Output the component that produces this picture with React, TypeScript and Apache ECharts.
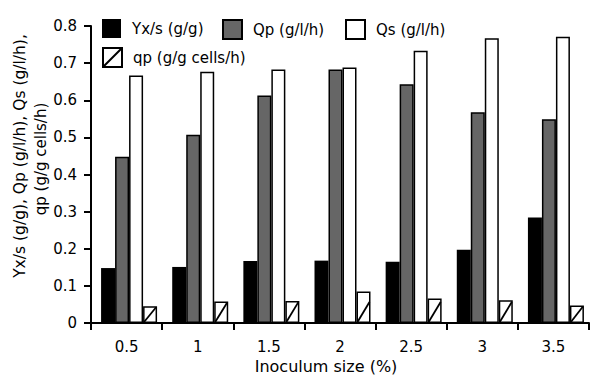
import React, { useEffect, useRef } from "react";
import * as echarts from "echarts";

const categories = ["0.5", "1", "1.5", "2", "2.5", "3", "3.5"];
const yxs = [0.148, 0.151, 0.167, 0.168, 0.165, 0.197, 0.284];
const Qp = [0.448, 0.507, 0.613, 0.683, 0.643, 0.568, 0.549];
const Qs = [0.667, 0.677, 0.683, 0.688, 0.733, 0.767, 0.771];
const qpCells = [0.045, 0.058, 0.059, 0.085, 0.066, 0.061, 0.047];

const names = ["Yx/s (g/g)", "Qp (g/l/h)", "Qs (g/l/h)", "qp (g/g cells/h)"];
const yName1 = "Yx/s (g/g), Qp (g/l/h), Qs (g/l/h),";
const yName2 = "qp (g/g cells/h)";
const xName = "Inoculum size (%)";

const FONT = "DejaVu Sans";

export default function App() {
  const ref = useRef<HTMLDivElement>(null);
  useEffect(() => {
    if (!ref.current) return;
    const chart = echarts.init(ref.current, undefined, { renderer: "svg" });
    const barW = 14;
    const spacerW = 5;
    const legendText = { fontFamily: FONT, fontSize: 15, color: "#000", padding: [0, 0, 0, 6] };
    const mkLegend = (name: string, left: number, top: number, icon = "rect") => ({
      data: [{ name, icon }],
      left,
      top,
      itemWidth: 19,
      itemHeight: 19,
      textStyle: legendText,
      selectedMode: false,
    });
    chart.setOption({
      animation: false,
      backgroundColor: "#fff",
      grid: { left: 91, right: 1, top: 26, bottom: 52, outerBoundsMode: "none", containLabel: false },
      legend: [
        mkLegend(names[0], 97, 14),
        mkLegend(names[1], 217, 14),
        mkLegend(names[2], 340, 14),
        mkLegend(names[3], 97, 42, "path://M0,0L20,0L20,20L0,20ZM0,20L20,0"),
      ],
      xAxis: {
        type: "category",
        data: categories,
        name: xName,
        nameLocation: "middle",
        nameGap: 31,
        nameTextStyle: { fontFamily: FONT, fontSize: 16, color: "#000", padding: [0, 28, 0, 0], verticalAlign: "top" },
        axisLine: { lineStyle: { color: "#000", width: 2 } },
        axisTick: { show: true, length: 7, lineStyle: { color: "#000", width: 2 } },
        axisLabel: { fontFamily: FONT, fontSize: 15, color: "#000", margin: 16 },
      },
      yAxis: {
        type: "value",
        min: 0,
        max: 0.8,
        interval: 0.1,
        axisLine: { show: true, lineStyle: { color: "#000", width: 2 } },
        axisTick: { show: true, length: 7, lineStyle: { color: "#000", width: 2 } },
        axisLabel: { fontFamily: FONT, fontSize: 15, color: "#000", margin: 14 },
        splitLine: { show: false },
      },
      graphic: [
        {
          type: "text",
          x: 20,
          y: 156,
          rotation: Math.PI / 2,
          style: { text: yName1, fontFamily: FONT, fontSize: 15.5, fill: "#000", align: "center", verticalAlign: "middle", textAlign: "center", textVerticalAlign: "middle" },
        },
        {
          type: "text",
          x: 41,
          y: 159,
          rotation: Math.PI / 2,
          style: { text: yName2, fontFamily: FONT, fontSize: 15, fill: "#000", align: "center", verticalAlign: "middle", textAlign: "center", textVerticalAlign: "middle" },
        },
      ],
      series: [
        {
          name: "spacer",
          type: "bar",
          data: categories.map(() => null),
          barWidth: spacerW,
          barGap: "0%",
          silent: true,
        },
        {
          name: names[0],
          type: "bar",
          data: yxs,
          barWidth: barW,
          barGap: "0%",
          itemStyle: { color: "#000", borderColor: "#000", borderWidth: 0 },
        },
        {
          name: names[1],
          type: "bar",
          data: Qp,
          barWidth: barW,
          barGap: "0%",
          itemStyle: { color: "#666666", borderColor: "#000", borderWidth: 1.5 },
        },
        {
          name: names[2],
          type: "bar",
          data: Qs,
          barWidth: barW,
          barGap: "0%",
          itemStyle: { color: "#fff", borderColor: "#000", borderWidth: 1.5 },
        },
        {
          name: names[3],
          type: "bar",
          data: qpCells,
          barWidth: barW,
          barGap: "0%",
          itemStyle: { color: "#fff", borderColor: "#000", borderWidth: 1.5 },
        },
        {
          name: "qp-hatch",
          type: "custom",
          z: 5,
          data: qpCells.map((v, i) => [i, v]),
          encode: { x: 0, y: 1 },
          renderItem: (params: any, api: any) => {
            const i = api.value(0);
            const v = api.value(1);
            const base = api.coord([i, 0]);
            const top = api.coord([i, v]);
            const total = spacerW + 4 * barW;
            const left = base[0] - total / 2 + spacerW + 3 * barW;
            const x0 = left + 1;
            const x1 = left + barW - 1;
            const h = base[1] - top[1];
            const sh = Math.min(h - 1, 21);
            return {
              type: "line",
              shape: { x1: x0, y1: base[1] - 1, x2: x1, y2: base[1] - sh },
              style: { stroke: "#000", lineWidth: 1.8 },
            };
          },
        },
      ],
    });
    return () => chart.dispose();
  }, []);
  return <div ref={ref} style={{ width: 590, height: 375, position: "absolute", left: 0, top: 0 }} />;
}
